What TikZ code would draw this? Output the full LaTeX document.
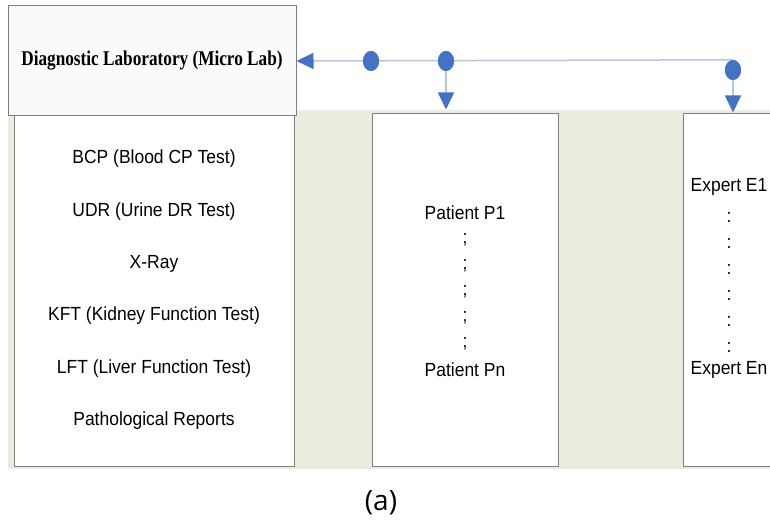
\documentclass[tikz,border=0pt]{standalone}
\usepackage{fontspec}
\usetikzlibrary{arrows.meta,shapes.geometric}
\setmainfont{Liberation Sans}
\newfontfamily\titlefont[FakeStretch=0.82]{Liberation Serif}
\newfontfamily\bodyfont[FakeStretch=0.92]{Liberation Sans}
\newfontfamily\capfont{Open Sans}
\definecolor{panelbg}{RGB}{233,236,222}
\definecolor{boxline}{RGB}{128,128,128}
\definecolor{labfill}{RGB}{250,250,250}
\definecolor{linkline}{RGB}{180,199,231}
\definecolor{tipblue}{RGB}{68,114,196}
\tikzset{
  x=1pt, y=-1pt,
  listbox/.style={draw=boxline, line width=1pt, fill=white, rectangle, inner sep=0pt},
  labbox/.style={draw=boxline, line width=1pt, fill=labfill, rectangle, inner sep=0pt,
    minimum width=288pt, minimum height=110pt,
    font=\titlefont\bfseries\fontsize{21}{25}\selectfont},
  entry/.style={font=\bodyfont\fontsize{19}{22}\selectfont, inner sep=0pt},
  gap/.style={font=\bodyfont\fontsize{19}{22}\selectfont, inner sep=0pt},
  joint/.style={ellipse, fill=tipblue, draw=none, minimum width=16pt, minimum height=20pt, inner sep=0pt},
  link/.style={draw=linkline, line width=1.5pt},
  tip/.style={-{Triangle[length=17pt,width=16pt,color=tipblue]}},
}
\begin{document}
\begin{tikzpicture}
\clip (0,0) rectangle (770,521);
\fill[white] (0,0) rectangle (770,521);
% shaded panel behind the three lists
\fill[panelbg] (8,110) rectangle (770,469);

% the three list boxes
\node[listbox, minimum width=280pt, minimum height=352pt] (tests) at (154,290) {};
\node[listbox, minimum width=186pt, minimum height=352pt] (patients) at (465,290) {};
\node[listbox, minimum width=180pt, minimum height=352pt] (experts) at (773,290) {};

% laboratory header box
\node[labbox] (lab) at (152,61) {Diagnostic Laboratory (Micro Lab)};

% tests
\node[entry] (t1) at (154,159) {BCP (Blood CP Test)};
\node[entry] (t2) at (154,212) {UDR (Urine DR Test)};
\node[entry] (t3) at (154,264) {X-Ray};
\node[entry] (t4) at (154,316) {KFT (Kidney Function Test)};
\node[entry] (t5) at (154,369) {LFT (Liver Function Test)};
\node[entry] (t6) at (154,421) {Pathological Reports};

% patients
\node[entry] (p1) at (465,213) {Patient P1};
\foreach \yy [count=\i] in {240,266,292,318,344}
  \node[gap] (ps\i) at (465,\yy) {;};
\node[entry] (pn) at (465,370) {Patient Pn};

% experts
\node[entry] (e1) at (729,187) {Expert E1};
\foreach \yy [count=\i] in {217,243,269,295,321,347}
  \node[gap] (es\i) at (729,\yy) {:};
\node[entry] (en) at (729,370) {Expert En};

% junction points on the bus line
\node[joint] (j1) at (371,61) {};
\node[joint] (j2) at (446,61) {};
\node[joint] (j3) at (733,70) {};

% connectors
\draw[link, tip] (j3.north) -- (lab.east);
\draw[link, tip, shorten >=4pt] (j2) -- (patients.north -| j2);
\draw[link, tip, shorten >=1pt] (j3) -- (experts.north -| j3);

% redraw junctions above the lines
\node[joint] at (j1) {};
\node[joint] at (j2) {};
\node[joint] at (j3) {};

% caption
\node[font=\capfont\fontsize{28}{32}\selectfont, inner sep=0pt] (cap) at (381,503) {(a)};
\end{tikzpicture}
\end{document}
